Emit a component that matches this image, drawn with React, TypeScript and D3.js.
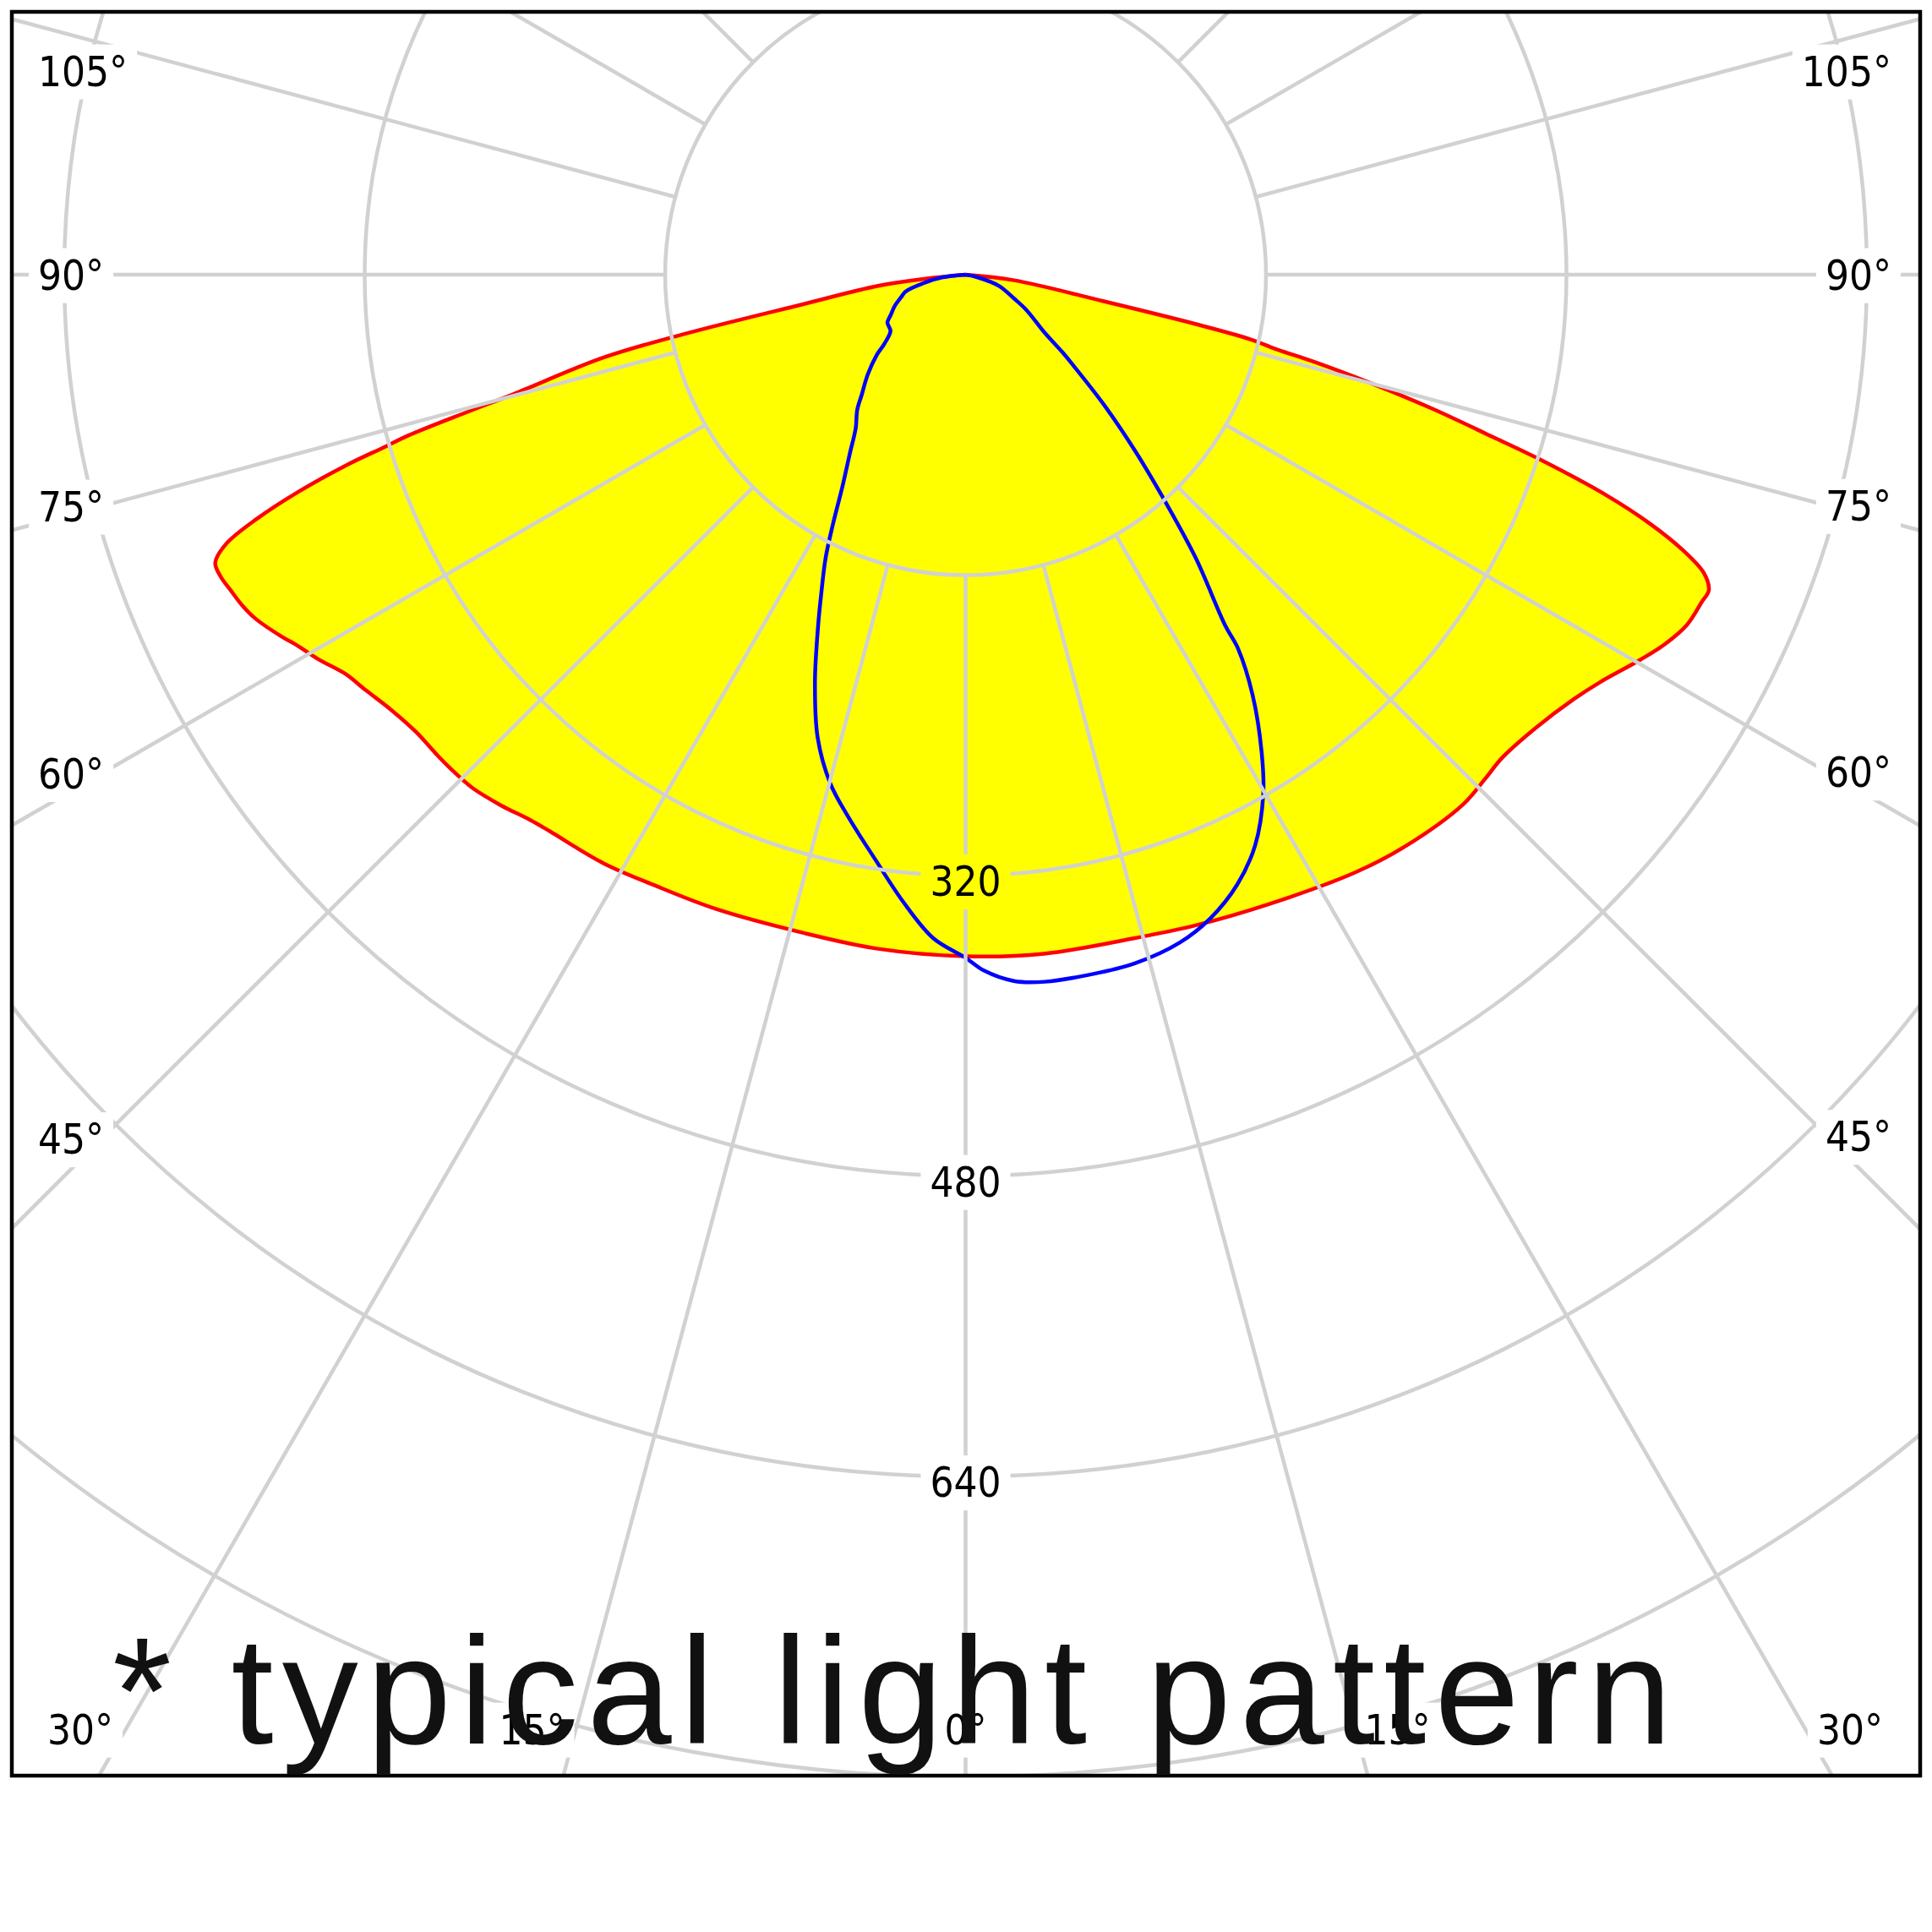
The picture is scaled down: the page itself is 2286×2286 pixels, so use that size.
import React, { useEffect, useRef } from "react";
import * as d3 from "d3";

const W = 2286;
const H = 2286;

// C0–C180 plane (red outline, yellow fill). Angle in degrees from nadir (negative = left side), intensity in cd
const redAngles = [
  -90, -84.2, -82.7, -79.7, -78.1, -77.1, -75.2, -74.6, -73.9, -73.5, -72.9, -72.0, -71.0, -70.0, -69.0,
  -67.9, -66.8, -65.4, -64.1, -62.1, -61.1, -59.3, -57.3, -55.3, -52.8, -50.2, -47.8, -46.2, -43.8,
  -41.2, -38.6, -36.8, -31.6, -27.1, -21.5, -13.9, -7.4, 0, 6.6, 14.3, 19.4, 25.6, 33.1, 37.5, 43.2,
  45.9, 48.0, 51.6, 55.1, 57.3, 60.3, 62.1, 64.1, 66.0, 67.0, 68.0, 69.0, 70.0, 71.0, 72.2, 72.9, 74.0,
  75.0, 76.0, 76.5, 77.2, 77.9, 79.1, 83.4, 90,
];
const redValues = [
  0, 22, 47, 88, 153, 198, 249, 275, 309, 322, 345, 373, 399, 419, 428,
  428, 426, 423.5, 420, 412, 407.5, 401, 393, 388.6, 383.7, 380.7, 380.3, 380, 379,
  375.6, 371.6, 370, 368, 365, 363, 361, 362, 363, 364, 364.6, 367.5, 372, 380, 384, 387,
  385.5, 384.5, 388, 395, 401.6, 413.8, 421, 427, 429, 430, 424, 409, 388, 361, 320, 293.5, 258,
  224, 190, 170, 156, 125, 75, 26, 0,
];

// C90–C270 plane (blue outline)
const blueAngles = [
  -90, -83.3, -78.6, -74.3, -70.7, -66.3, -61.5, -58.5, -53.1, -49.6, -47.9, -44.4, -40.9, -38.7,
  -35.6, -32.9, -30.1, -28.0, -26.3, -24.3, -22.8, -20.3, -17.7, -14.9, -12.2, -8.8, -5.7, -2.8, 0,
  1.5, 3.9, 6.4, 10.1, 13.8, 17.8, 20.8, 24.0, 26.9, 29.8, 31.8, 34.3, 36.1, 36.5, 39.1, 41.6, 43.9,
  46.7, 50.1, 51.3, 53.8, 59.9, 63.8, 71.4, 77.3, 90,
];
const blueValues = [
  0, 12.8, 22.8, 33.2, 36.4, 41.1, 45.5, 48.8, 50.0, 56.8, 63.7, 74.5, 84.4, 92.3,
  100.5, 113.5, 131, 150.4, 168.2, 186.9, 202.6, 231.2, 259, 280.3, 295.5, 315, 335.5, 353.7, 363.8,
  370.7, 377, 378.9, 378.6, 377.7, 373.5, 366.8, 355.6, 340.8, 319, 299.2, 271.4, 246, 232.5, 194.2, 157.5, 130.1,
  101.8, 73.6, 66.1, 52, 37.4, 28.8, 18.8, 6.7, 0,
];

const ringValues = [160, 320, 480, 640, 800, 960, 1120];
const ringLabelValues = [320, 480, 640];
const spokeAngles = [0, 15, 30, 45, 60, 75, 90, 105, 120, 135, 150, 165, 180, 195, 210, 225, 240, 255, 270, 285, 300, 315, 330, 345];
const angleTickValues = [0, 15, 30, 45, 60, 75, 90, 105, 120, 135, 150, 165, 180];
const titleText = "* typical light pattern";

type P = { a: number; v: number };

export default function App() {
  const ref = useRef<SVGSVGElement>(null);

  useEffect(() => {
    const svg = d3.select(ref.current as SVGSVGElement);
    svg.selectAll("*").remove();

    const frame = { x0: 14, y0: 14, x1: 2272, y1: 2101 };
    const cx = 1142.5;
    const cy = 325;
    const gridColor = "#d1d1d1";
    const r = d3.scaleLinear().domain([0, 160]).range([0, 355.5]);
    const rad = (deg: number) => (deg * Math.PI) / 180;
    const pt = (deg: number, rr: number) => [cx + rr * Math.sin(rad(deg)), cy + rr * Math.cos(rad(deg))];

    const defs = svg.append("defs");
    defs
      .append("clipPath")
      .attr("id", "plotClip")
      .append("rect")
      .attr("x", frame.x0)
      .attr("y", frame.y0)
      .attr("width", frame.x1 - frame.x0)
      .attr("height", frame.y1 - frame.y0);
    const mask = defs
      .append("mask")
      .attr("id", "gridMask")
      .attr("maskUnits", "userSpaceOnUse")
      .attr("x", 0)
      .attr("y", 0)
      .attr("width", W)
      .attr("height", H);
    mask.append("rect").attr("x", 0).attr("y", 0).attr("width", W).attr("height", H).attr("fill", "white");

    svg.append("rect").attr("x", 0).attr("y", 0).attr("width", W).attr("height", H).attr("fill", "#ffffff");

    const plot = svg.append("g").attr("clip-path", "url(#plotClip)");
    const g = plot.append("g").attr("transform", `translate(${cx},${cy})`);

    const radial = d3
      .lineRadial<P>()
      .angle((d) => Math.PI - rad(d.a))
      .radius((d) => r(d.v))
      .curve(d3.curveCatmullRom.alpha(0.5));

    const redData: P[] = redAngles.map((a, i) => ({ a, v: redValues[i] }));
    const blueData: P[] = blueAngles.map((a, i) => ({ a, v: blueValues[i] }));

    g.append("path").attr("d", (radial(redData) as string) + "Z").attr("fill", "#ffff00").attr("stroke", "none");

    const grid = plot
      .append("g")
      .attr("mask", "url(#gridMask)")
      .attr("stroke", gridColor)
      .attr("stroke-width", 4.5)
      .attr("fill", "none");
    ringValues.forEach((v) => {
      grid.append("circle").attr("cx", cx).attr("cy", cy).attr("r", r(v));
    });
    spokeAngles.forEach((a) => {
      const [x1, y1] = pt(a, r(160));
      const [x2, y2] = pt(a, 5000);
      grid.append("line").attr("x1", x1).attr("y1", y1).attr("x2", x2).attr("y2", y2);
    });

    g.append("path")
      .attr("d", radial(redData) as string)
      .attr("fill", "none")
      .attr("stroke", "#ff0000")
      .attr("stroke-width", 4.5)
      .attr("stroke-linejoin", "round");
    g.append("path")
      .attr("d", radial(blueData) as string)
      .attr("fill", "none")
      .attr("stroke", "#0000ff")
      .attr("stroke-width", 4.5)
      .attr("stroke-linejoin", "round");

    const labels = svg
      .append("g")
      .attr("font-family", "'DejaVu Sans Condensed', 'DejaVu Sans', sans-serif")
      .attr("font-stretch", "condensed")
      .attr("font-size", 49)
      .attr("fill", "#000000");

    const addMask = (node: SVGTextElement) => {
      const b = node.getBBox();
      mask
        .append("rect")
        .attr("x", b.x - 11)
        .attr("y", b.y - 4)
        .attr("width", b.width + 22)
        .attr("height", b.height + 8)
        .attr("fill", "black");
    };

    // radius labels along the nadir line
    ringLabelValues.forEach((v) => {
      const t = labels
        .append("text")
        .attr("x", cx)
        .attr("y", cy + r(v) + 6.5)
        .attr("dy", "0.36em")
        .attr("text-anchor", "middle")
        .text(String(v));
      addMask(t.node() as SVGTextElement);
    });

    // angle labels where spokes leave the frame (left, right or bottom)
    const leftInner = 120;
    const rightInner = 2162;
    angleTickValues.forEach((a) => {
      const sides = a === 0 ? [0] : [-a, a];
      sides.forEach((th) => {
        const s = Math.sin(rad(th));
        const c = Math.cos(rad(th));
        const ts: { t: number; edge: string }[] = [];
        if (s < -1e-9) ts.push({ t: (frame.x0 - cx) / s, edge: "left" });
        if (s > 1e-9) ts.push({ t: (frame.x1 - cx) / s, edge: "right" });
        if (c > 1e-9) ts.push({ t: (frame.y1 - cy) / c, edge: "bottom" });
        if (c < -1e-9) ts.push({ t: (frame.y0 - cy) / c, edge: "top" });
        const exit = ts.reduce((m, d) => (d.t < m.t ? d : m));
        const label = `${a}°`;
        let node: SVGTextElement | null = null;
        if (exit.edge === "left") {
          const t = (leftInner - cx) / s;
          const y = Math.max(84, cy + t * c);
          node = labels.append("text").attr("x", 45).attr("y", y).attr("dy", "0.36em").attr("text-anchor", "start").text(label).node();
        } else if (exit.edge === "right") {
          const t = (rightInner - cx) / s;
          const y = Math.max(84, cy + t * c);
          node = labels.append("text").attr("x", 2238).attr("y", y).attr("dy", "0.36em").attr("text-anchor", "end").text(label).node();
        } else if (exit.edge === "bottom") {
          const xi = cx + (frame.y1 - cy) * Math.tan(rad(th));
          const yb = 2046;
          if (th === 0) {
            node = labels.append("text").attr("x", xi).attr("y", yb).attr("dy", "0.36em").attr("text-anchor", "middle").text(label).node();
          } else if (th < 0) {
            const txt = labels.append("text").attr("y", yb).attr("dy", "0.36em").attr("text-anchor", "end").text(label);
            const w = (txt.node() as SVGTextElement).getComputedTextLength();
            txt.attr("x", Math.max(xi + 2, 56 + w));
            node = txt.node();
          } else {
            const txt = labels.append("text").attr("y", yb).attr("dy", "0.36em").attr("text-anchor", "start").text(label);
            const w = (txt.node() as SVGTextElement).getComputedTextLength();
            txt.attr("x", Math.min(xi - 4, 2228 - w));
            node = txt.node();
          }
        }
        if (node) addMask(node);
      });
    });

    // frame
    svg
      .append("rect")
      .attr("x", frame.x0)
      .attr("y", frame.y0)
      .attr("width", frame.x1 - frame.x0)
      .attr("height", frame.y1 - frame.y0)
      .attr("fill", "none")
      .attr("stroke", "#000000")
      .attr("stroke-width", 4.5);

    // caption
    svg
      .append("text")
      .attr("x", 133)
      .attr("y", 2063)
      .attr("font-family", "'Liberation Sans', Arial, sans-serif")
      .attr("font-size", 180)
      .attr("fill", "#111111")
      .attr("textLength", 1845)
      .attr("lengthAdjust", "spacing")
      .text(titleText);
  }, []);

  return <svg ref={ref} width={W} height={H} style={{ position: "absolute", left: 0, top: 0, display: "block" }} />;
}
